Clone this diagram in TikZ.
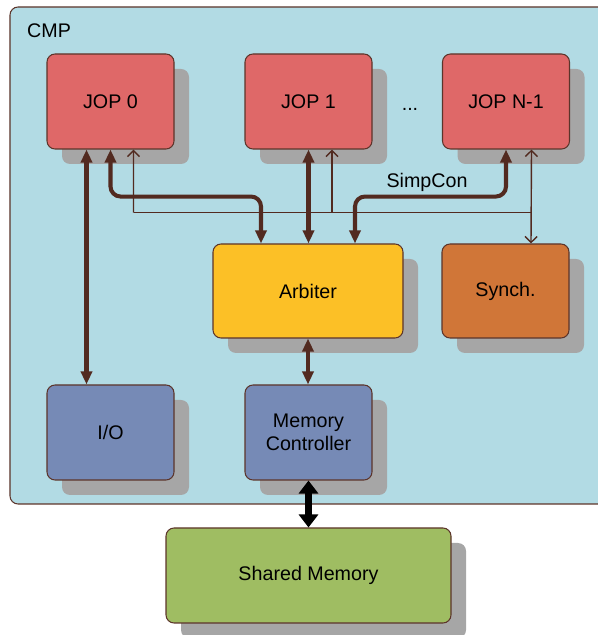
\documentclass[tikz,border=0pt]{standalone}
\usepackage{fontspec}
\setmainfont{Liberation Sans}
\usetikzlibrary{shadows,arrows.meta,calc}
\definecolor{cmpbg}{RGB}{178,219,228}
\definecolor{brd}{RGB}{92,52,42}
\definecolor{arr}{RGB}{82,42,32}
\definecolor{shd}{RGB}{166,166,166}
\definecolor{jopred}{RGB}{223,104,104}
\definecolor{arbyel}{RGB}{252,192,38}
\definecolor{synor}{RGB}{208,118,56}
\definecolor{periblue}{RGB}{118,138,182}
\definecolor{memgreen}{RGB}{159,189,98}
\newcommand{\blkfont}{\fontsize{11.2}{13.2}\selectfont}

\begin{document}
\begin{tikzpicture}[scale=1,
  blk/.style={draw=brd, line width=0.6pt, rounded corners=0.16cm, minimum width=2.54cm, minimum height=1.9cm, font=\blkfont, align=center,
    drop shadow={shadow xshift=0.3cm, shadow yshift=-0.3cm, fill=shd, opacity=1}},
  thk/.style={draw=arr, line width=2.3pt, rounded corners=0.2cm, >={Triangle[length=0.26cm,width=0.22cm]}},
  sig/.style={draw=arr, line width=0.8pt, >={Straight Barb[length=0.12cm,width=0.24cm]}}]
\useasboundingbox (0,0) rectangle (11.94,12.7);
% CMP box:
\draw[draw=brd, fill=cmpbg, line width=0.6pt, rounded corners=0.16cm] (0.2,2.62) rectangle (12.3,12.56);
\node (cmp) [anchor=west, font=\blkfont] at (0.42,12.08) {CMP};
% Processors:
\node (jop0) [blk, fill=jopred] at (2.21,10.67) {JOP 0};
\node (jop1) [blk, fill=jopred] at (6.17,10.67) {JOP 1};
\node (jopn) [blk, fill=jopred] at (10.12,10.67) {JOP N-1};
\node (dots) [anchor=base, font=\blkfont] at (8.2,10.49) {...};
% Arbiter and friends:
\node (arb) [blk, fill=arbyel, minimum width=3.8cm, minimum height=1.88cm] at (6.16,6.88) {Arbiter};
\node (synch) [blk, fill=synor, minimum height=1.88cm] at (10.11,6.88) {Synch.};
\node (io) [blk, fill=periblue] at (2.21,4.05) {I/O};
\node (memc) [blk, fill=periblue] at (6.17,4.05) {Memory\\Controller};
\node (shmem) [blk, fill=memgreen, minimum width=5.7cm] at (6.17,1.19) {Shared Memory};
% SimpCon:
\draw[thk,<->] (jop0.south) -- ++(0,-0.94) -| ([xshift=-0.94cm]arb.north);
\draw[thk,<->] (jop1.south) -- (jop1.south |- arb.north);
\draw[thk,<->] (jopn.south) -- ++(0,-0.94) -| ([xshift=0.94cm]arb.north);
\node (simpcon) [font=\blkfont] at (8.54,9.06) {SimpCon};
\coordinate (b0) at ($(jop0.south)+(0.46,-1.26)$);
\coordinate (b1) at ($(jop1.south)+(0.47,-1.26)$);
\coordinate (bn) at ($(jopn.south)+(0.51,-1.26)$);
\draw[sig,->] (b0) -- ([xshift=0.46cm]jop0.south);
\draw[sig,->] (b1) -- ([xshift=0.47cm]jop1.south);
\draw[sig,<->] ([xshift=0.51cm]jopn.south) -- ([xshift=0.51cm]synch.north);
\draw[sig] (b0) -- (bn);
% I/O and memory:
\draw[thk,<->] ([xshift=-0.48cm]jop0.south) -- ([xshift=-0.48cm]io.north);
\draw[thk,<->] (arb.south) -- (arb.south |- memc.north);
\draw[line width=4.5pt, >={Triangle[length=0.26cm,width=0.38cm]}, <->] (memc.south) -- (shmem.north);
\end{tikzpicture}
\end{document}
